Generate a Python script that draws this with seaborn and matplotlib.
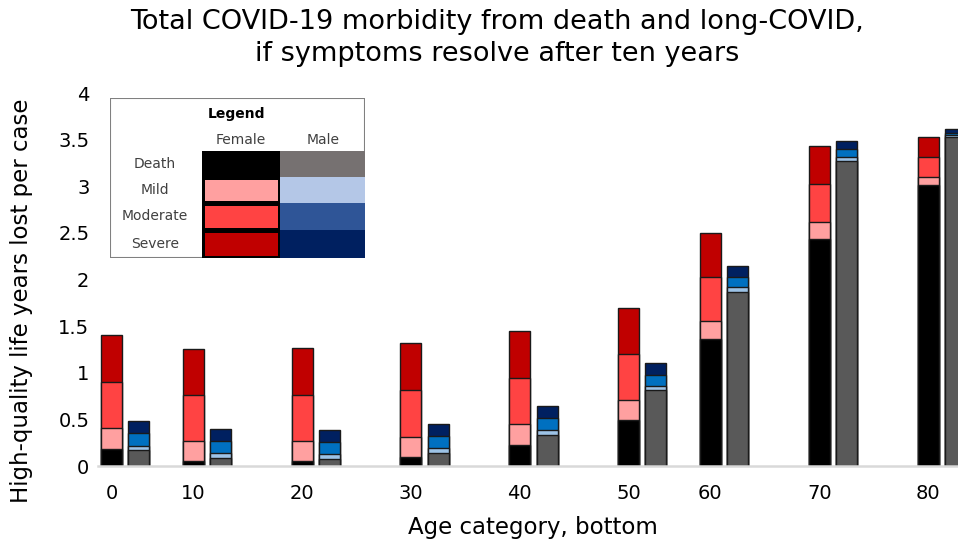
import numpy as np
import pandas as pd
import matplotlib
matplotlib.use('Agg')
import matplotlib.pyplot as plt
import seaborn as sns
from matplotlib.patches import Rectangle

# age categories (bottom of each band)
ages = [0, 10, 20, 30, 40, 50, 60, 70, 80]

# high-quality life years lost per case, split by cause
female_death = [0.18, 0.05, 0.05, 0.095, 0.23, 0.49, 1.36, 2.43, 3.01]
female_mild = [0.225, 0.22, 0.22, 0.22, 0.22, 0.22, 0.20, 0.185, 0.09]
female_moderate = [0.495, 0.49, 0.495, 0.50, 0.495, 0.49, 0.47, 0.405, 0.21]
female_severe = [0.50, 0.50, 0.50, 0.50, 0.50, 0.49, 0.47, 0.41, 0.22]

male_death = [0.17, 0.09, 0.075, 0.14, 0.33, 0.81, 1.87, 3.27, 3.53]
male_mild = [0.05, 0.045, 0.055, 0.055, 0.055, 0.05, 0.045, 0.04, 0.02]
male_moderate = [0.13, 0.13, 0.125, 0.125, 0.125, 0.12, 0.11, 0.09, 0.02]
male_severe = [0.13, 0.13, 0.13, 0.13, 0.13, 0.13, 0.12, 0.09, 0.05]

layers = ['Death', 'Mild', 'Moderate', 'Severe']
yticks = [0, 0.5, 1, 1.5, 2, 2.5, 3, 3.5, 4]

# colours
female_colors = ['#000000', '#ffa0a0', '#ff4343', '#c00000']
male_colors = ['#595959', '#9dc3e6', '#0070c0', '#002060']
male_legend_colors = ['#767171', '#b4c7e7', '#2f5597', '#002060']

# empty category slots after each age group (the original has uneven spacing)
empty_after = [1, 2, 2, 2, 2, 1, 2, 2, 0]

slots = []
for age, n in zip(ages, empty_after):
    slots += [f'F{age}', f'M{age}'] + [f'gap{age}_{k}' for k in range(n)]

rows = []
for i, age in enumerate(ages):
    rows.append({'slot': f'F{age}', 'sex': 'Female',
                 'Death': female_death[i], 'Mild': female_mild[i],
                 'Moderate': female_moderate[i], 'Severe': female_severe[i]})
    rows.append({'slot': f'M{age}', 'sex': 'Male',
                 'Death': male_death[i], 'Mild': male_mild[i],
                 'Moderate': male_moderate[i], 'Severe': male_severe[i]})
df = pd.DataFrame(rows)
df[[f'cum_{l}' for l in layers]] = df[layers].cumsum(axis=1).values

sns.set_style('white')
plt.rcParams['font.family'] = ['DejaVu Sans']
plt.rcParams['text.color'] = 'black'
plt.rcParams['xtick.color'] = 'black'
plt.rcParams['ytick.color'] = 'black'

fig = plt.figure(figsize=(9.58, 5.46), dpi=100)
ax = fig.add_axes([0.102, 0.1465, 0.898, 0.683])

# stacked bars: draw cumulative totals from the top layer down
for sex, colors in [('Female', female_colors), ('Male', male_colors)]:
    sub = df[df['sex'] == sex]
    for layer, c in reversed(list(zip(layers, colors))):
        sns.barplot(data=sub, x='slot', y=f'cum_{layer}', order=slots, color=c,
                    saturation=1, width=0.77, errorbar=None,
                    edgecolor='#1a1a1a', linewidth=1, ax=ax)

ax.set_xlim(-0.51, 31.1)
ax.set_ylim(0, 4)
ax.set_xticks([slots.index(f'F{a}') for a in ages])
ax.set_xticklabels([str(a) for a in ages])
ax.set_yticks(yticks)
ax.set_yticklabels([f'{t:g}' for t in yticks])
ax.tick_params(axis='x', length=0, pad=13, labelsize=14, labelcolor='black')
ax.tick_params(axis='y', length=0, pad=6, labelsize=14, labelcolor='black')
ax.set_xlabel('')
ax.set_ylabel('')
for s in ['top', 'right', 'left']:
    ax.spines[s].set_visible(False)
ax.spines['bottom'].set_color('#d9d9d9')
ax.spines['bottom'].set_linewidth(1.8)

fig.text(0.519, 0.930, 'Total COVID-19 morbidity from death and long-COVID,\nif symptoms resolve after ten years',
         ha='center', va='center', fontsize=19.5, linespacing=1.28, color='black')
fig.text(22 / 958, 0.449, 'High-quality life years lost per case', rotation=90,
         ha='center', va='center', fontsize=16.5, color='black')
fig.text(0.556, 0.033, 'Age category, bottom', ha='center', va='center', fontsize=16.5, color='black')

# legend drawn as a small table
lax = fig.add_axes([110 / 958, (546 - 258) / 546, 255 / 958, 160 / 546])
lax.set_xlim(0, 255)
lax.set_ylim(160, 0)
lax.axis('off')
lax.add_patch(Rectangle((0, 0), 255, 160, facecolor='white', edgecolor='#808080', lw=1.5))
txt = '#404040'
lax.text(127, 16, 'Legend', ha='center', va='center', fontsize=10, fontweight='bold', color='black')
lax.text(131, 42, 'Female', ha='center', va='center', fontsize=10, color=txt)
lax.text(213, 42, 'Male', ha='center', va='center', fontsize=10, color=txt)
row_top = [53, 79, 105, 132]
row_bot = [79, 105, 132, 160]
lax.add_patch(Rectangle((92, 53), 78, 107, facecolor='black', edgecolor='none'))
for i, layer in enumerate(layers):
    y0, y1 = row_top[i], row_bot[i]
    lax.text(45, (y0 + y1) / 2, layer, ha='center', va='center', fontsize=10, color=txt)
    lax.add_patch(Rectangle((94.5, y0 + 2.5), 73, y1 - y0 - 5,
                            facecolor=female_colors[i], edgecolor='none'))
    lax.add_patch(Rectangle((170, y0), 85, y1 - y0,
                            facecolor=male_legend_colors[i], edgecolor='none'))

fig.savefig('out.png', dpi=100)
